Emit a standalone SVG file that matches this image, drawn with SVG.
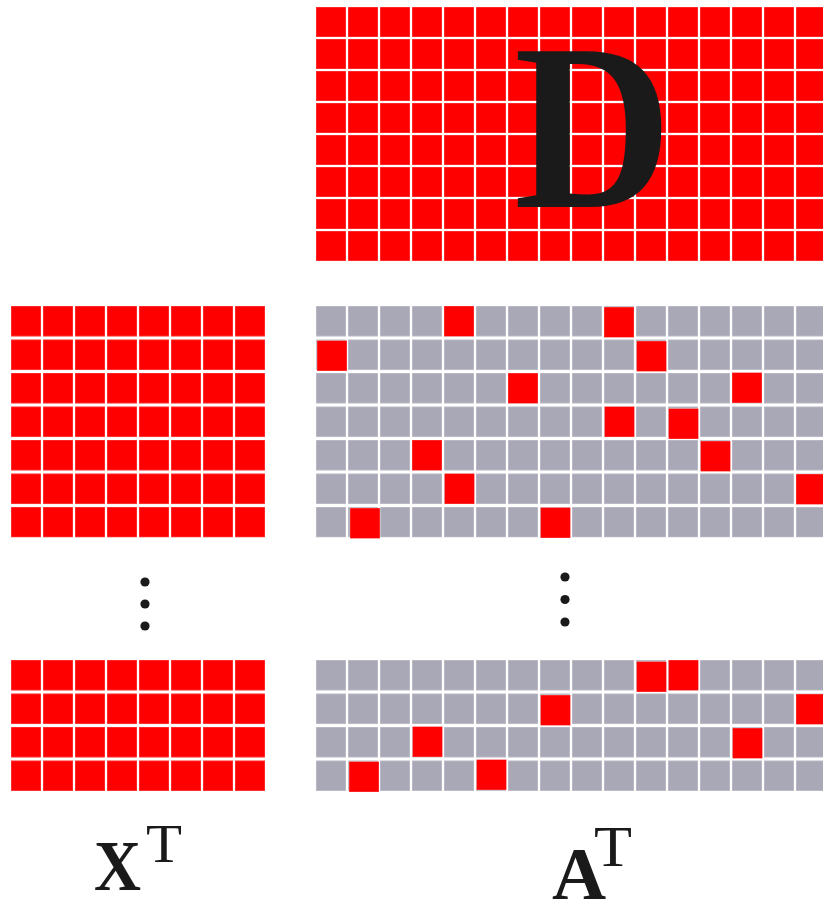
<svg xmlns="http://www.w3.org/2000/svg" width="823" height="901" viewBox="0 0 823 901">
<style>
.red{fill:#ff0000;stroke:#ffffff;stroke-opacity:.3;stroke-width:1}
.lbl{font-family:"Liberation Serif","DejaVu Serif",serif;fill:#1a1a1a}
.dot{fill:#1a1a1a}
</style>
<defs>
<pattern id="pD" patternUnits="userSpaceOnUse" x="316" y="7" width="32" height="32">
<rect x="0" y="0" width="30" height="30" fill="#ff0000" stroke="#fff" stroke-opacity=".3" stroke-width="1"/>
</pattern>
<pattern id="pRedA" patternUnits="userSpaceOnUse" x="11" y="306" width="32" height="33.5">
<rect x="0" y="0" width="30" height="30.5" fill="#ff0000" stroke="#fff" stroke-opacity=".3" stroke-width="1"/>
</pattern>
<pattern id="pRedB" patternUnits="userSpaceOnUse" x="11" y="660" width="32" height="33.5">
<rect x="0" y="0" width="30" height="30.5" fill="#ff0000" stroke="#fff" stroke-opacity=".3" stroke-width="1"/>
</pattern>
<pattern id="pGrayA" patternUnits="userSpaceOnUse" x="316" y="306" width="32" height="33.5">
<rect x="0" y="0" width="30" height="30.5" fill="#a9a8b6" stroke="#fff" stroke-opacity=".35" stroke-width="1"/>
</pattern>
<pattern id="pGrayB" patternUnits="userSpaceOnUse" x="316" y="660" width="32" height="33.5">
<rect x="0" y="0" width="30" height="30.5" fill="#a9a8b6" stroke="#fff" stroke-opacity=".35" stroke-width="1"/>
</pattern>
</defs>
<rect width="823" height="901" fill="#ffffff"/>

<g id="D">
<rect x="316" y="7" width="507" height="254" fill="url(#pD)"/>
<text class="lbl" x="514" y="207" font-size="237" font-weight="bold" textLength="158" lengthAdjust="spacingAndGlyphs">D</text>
</g>

<g id="XT-top">
<rect x="11" y="306" width="254" height="231.5" fill="url(#pRedA)"/>
</g>

<g id="XT-bottom">
<rect x="11" y="660" width="254" height="131" fill="url(#pRedB)"/>
</g>

<g id="AT-top">
<rect x="316" y="306" width="507" height="231.5" fill="url(#pGrayA)"/>
<rect class="red" x="444" y="306" width="30" height="30.5"/>
<rect class="red" x="604" y="307" width="30" height="30.5"/>
<rect class="red" x="317" y="340.5" width="30" height="30.5"/>
<rect class="red" x="636.5" y="341" width="30" height="30.5"/>
<rect class="red" x="508" y="373" width="30" height="30.5"/>
<rect class="red" x="732" y="372.5" width="30" height="30.5"/>
<rect class="red" x="604.5" y="406.5" width="30" height="30.5"/>
<rect class="red" x="668.5" y="408.5" width="30" height="30.5"/>
<rect class="red" x="412" y="440" width="30" height="30.5"/>
<rect class="red" x="700.5" y="441" width="30" height="30.5"/>
<rect class="red" x="444.5" y="473.5" width="30" height="30.5"/>
<rect class="red" x="796" y="474" width="30" height="30.5"/>
<rect class="red" x="350" y="508" width="30" height="30.5"/>
<rect class="red" x="540.5" y="507.5" width="30" height="30.5"/>
</g>

<g id="AT-bottom">
<rect x="316" y="660" width="507" height="131" fill="url(#pGrayB)"/>
<rect class="red" x="636.5" y="661.5" width="30" height="30.5"/>
<rect class="red" x="668.5" y="660" width="30" height="30.5"/>
<rect class="red" x="540.5" y="695" width="30" height="30.5"/>
<rect class="red" x="796" y="694" width="30" height="30.5"/>
<rect class="red" x="412.5" y="726.5" width="30" height="30.5"/>
<rect class="red" x="732.5" y="728" width="30" height="30.5"/>
<rect class="red" x="349" y="761.5" width="30" height="30.5"/>
<rect class="red" x="476.5" y="759.5" width="30" height="30.5"/>
</g>

<g id="dots-left">
<circle class="dot" cx="145" cy="582" r="4.6"/>
<circle class="dot" cx="145" cy="604" r="4.6"/>
<circle class="dot" cx="145" cy="626" r="4.6"/>
</g>
<g id="dots-right">
<circle class="dot" cx="565" cy="577" r="4.6"/>
<circle class="dot" cx="565" cy="599.5" r="4.6"/>
<circle class="dot" cx="565" cy="622" r="4.6"/>
</g>

<g id="label-XT">
<text class="lbl" x="94" y="890" font-size="71" font-weight="bold" textLength="47" lengthAdjust="spacingAndGlyphs">X</text>
<text class="lbl" x="146" y="862" font-size="55" textLength="36" lengthAdjust="spacingAndGlyphs">T</text>
</g>
<g id="label-AT">
<text class="lbl" x="552" y="899" font-size="75" font-weight="bold">A</text>
<text class="lbl" x="594" y="866" font-size="57" textLength="38" lengthAdjust="spacingAndGlyphs">T</text>
</g>
</svg>
